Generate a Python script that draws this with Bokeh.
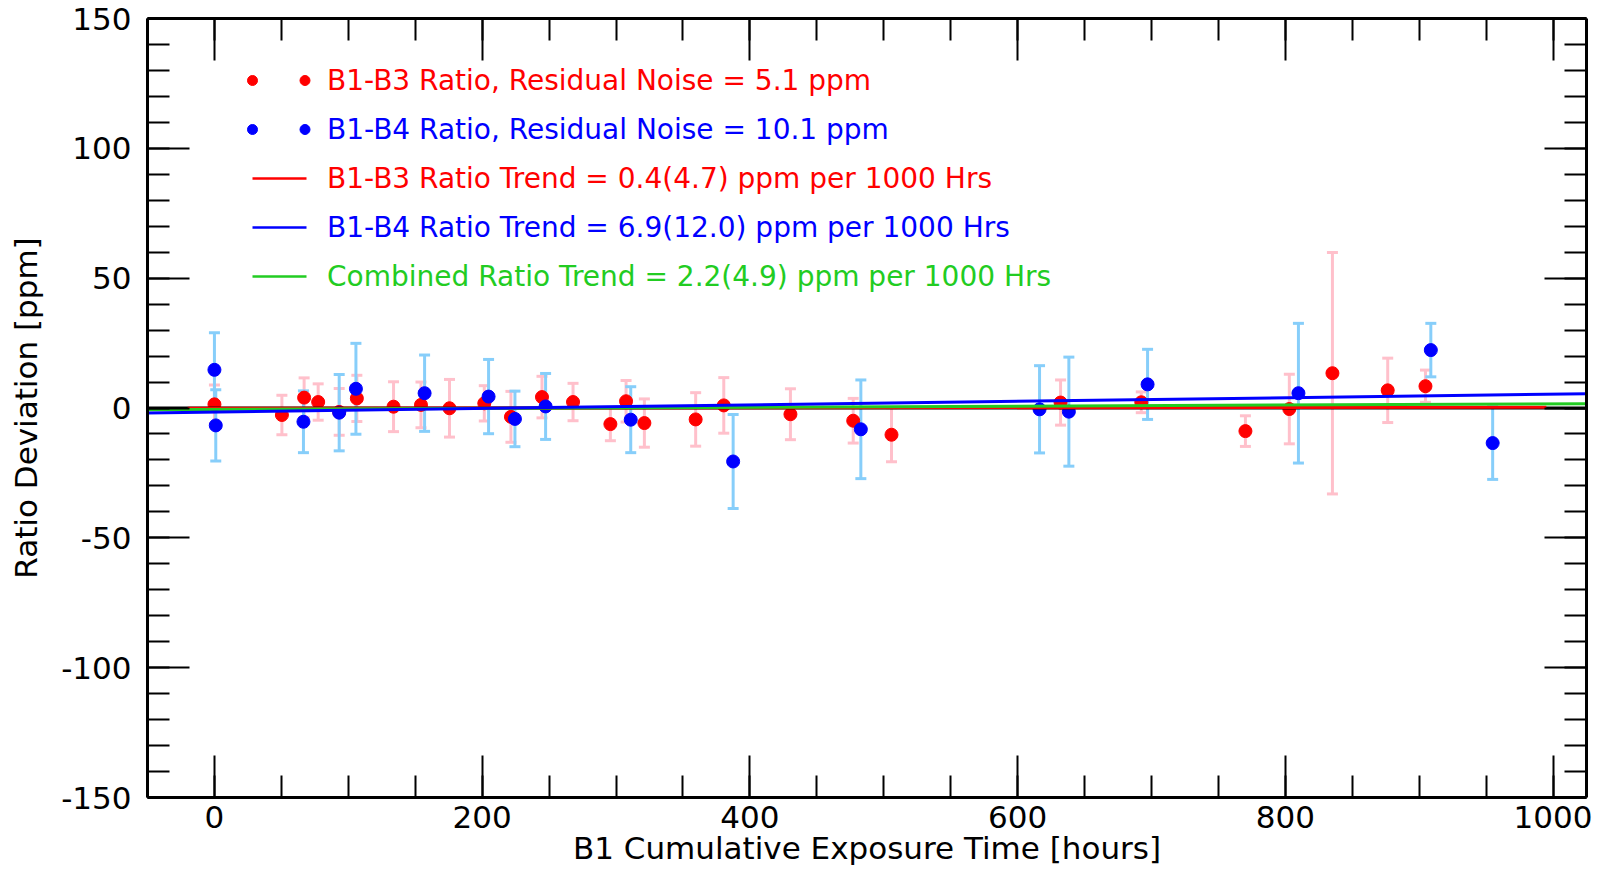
from bokeh.plotting import figure
from bokeh.models import (ColumnDataSource, Whisker, TeeHead, LinearAxis,
                          SingleIntervalTicker, Range1d, CustomJSTickFormatter)
from bokeh.core.properties import value
from bokeh.embed import file_html
from bokeh.resources import INLINE

# ---------------- data ----------------
b13_hours = [0, 50.4, 67, 77.5, 93.2, 106.4, 133.8, 154.3, 175.6, 201.6, 221.5,
             244.7, 267.9, 295.8, 307.5, 321.2, 359.5, 380.5, 430.3, 477.2,
             505.8, 632.1, 692.4, 770.2, 803, 835.2, 876.5, 904.7]
b13_dev = [1.4, -2.7, 4.0, 2.3, -1.5, 3.7, 0.5, 1.2, -0.1, 1.8, -3.4,
           4.2, 2.3, -6.2, 2.6, -5.8, -4.4, 1.0, -2.4, -4.9,
           -10.3, 2.1, 2.2, -8.9, -0.4, 13.4, 6.8, 8.4]
b13_err = [7.5, 7.6, 7.6, 7.0, 9.0, 8.9, 9.6, 8.8, 11.1, 6.8, 9.8,
           8.0, 7.2, 6.4, 8.0, 9.3, 10.3, 10.7, 9.8, 8.6,
           10.4, 8.7, 4.0, 5.9, 13.4, 46.5, 12.4, 6.2]

b14_hours = [0, 1, 66.5, 93.2, 105.7, 157, 204.8, 224.5, 247.4, 311, 387.5,
             482.9, 616.4, 638.3, 697.1, 809.8, 908.7, 954.9]
b14_dev = [14.7, -6.7, -5.3, -1.8, 7.4, 5.7, 4.4, -4.2, 0.6, -4.5, -20.6,
           -8.2, -0.5, -1.4, 9.1, 5.7, 22.3, -13.5]
b14_err = [14.3, 13.7, 11.9, 14.7, 17.5, 14.7, 14.3, 10.7, 12.7, 12.7, 18.1,
           19.0, 16.8, 21.0, 13.5, 26.9, 10.3, 14.0]

b13_trend_hours = [-20, 995]
b13_trend_dev = [-0.1, 0.3]
b14_trend_hours = [-50, 1025]
b14_trend_dev = [-1.9, 5.5]
comb_trend_hours = [-50, 1025]
comb_trend_dev = [-0.7, 1.65]

legend_labels = ["B1-B3 Ratio, Residual Noise = 5.1 ppm",
                 "B1-B4 Ratio, Residual Noise = 10.1 ppm",
                 "B1-B3 Ratio Trend = 0.4(4.7) ppm per 1000 Hrs",
                 "B1-B4 Ratio Trend = 6.9(12.0) ppm per 1000 Hrs",
                 "Combined Ratio Trend = 2.2(4.9) ppm per 1000 Hrs"]

x_title = "B1 Cumulative Exposure Time [hours]"
y_title = "Ratio Deviation [ppm]"

# ---------------- layout / style ----------------
X_RANGE = (-50, 1025)
Y_RANGE = (-150, 150)
W, H = 1600, 869
FRAME_L, FRAME_R, FRAME_T, FRAME_B = 147, 1586, 18, 797
FONT = "DejaVu Sans"

RED, BLUE, GREEN = "#FF0000", "#0000FF", "#22CC22"
PINK, LIGHTBLUE = "#FFC0CB", "#87CEFA"

p = figure(width=W, height=H,
           x_range=Range1d(*X_RANGE), y_range=Range1d(*Y_RANGE),
           output_backend="svg", toolbar_location=None,
           min_border_left=FRAME_L, min_border_right=W - FRAME_R,
           min_border_top=FRAME_T, min_border_bottom=H - FRAME_B,
           x_axis_label=x_title, y_axis_label=y_title)
p.grid.visible = False
p.outline_line_color = None
p.background_fill_color = "white"
p.border_fill_color = "white"

xticker = SingleIntervalTicker(interval=200, num_minor_ticks=4)
yticker = SingleIntervalTicker(interval=50, num_minor_ticks=5)

# plain ASCII hyphen for negative tick labels, as in the reference
ascii_fmt = CustomJSTickFormatter(code="return tick.toFixed(0);")
blank_fmt = CustomJSTickFormatter(code="return '';")


def style_axis(ax, ticker, labels=True):
    ax.ticker = ticker
    ax.axis_line_color = "black"
    ax.axis_line_width = 3
    ax.major_tick_line_color = "black"
    ax.major_tick_line_width = 2
    ax.minor_tick_line_color = "black"
    ax.minor_tick_line_width = 2
    ax.major_tick_in = 42
    ax.major_tick_out = 0
    ax.minor_tick_in = 22
    ax.minor_tick_out = 0
    ax.major_label_text_font = FONT
    ax.major_label_text_color = "black"
    ax.axis_label_text_font = FONT
    ax.axis_label_text_font_style = "normal"
    ax.axis_label_text_color = "black"
    ax.axis_label_text_font_size = "31px"
    if labels:
        ax.formatter = ascii_fmt
        ax.major_label_text_font_size = "31px"
    else:
        ax.formatter = blank_fmt
        ax.major_label_text_font_size = "0px"
        ax.major_label_standoff = 0


xax = p.xaxis[0]
yax = p.yaxis[0]
style_axis(xax, xticker)
style_axis(yax, yticker)
xax.major_label_standoff = 8
xax.axis_label_standoff = -1
yax.major_label_standoff = 16
yax.axis_label_standoff = 14

top_ax = LinearAxis()
style_axis(top_ax, xticker, labels=False)
right_ax = LinearAxis()
style_axis(right_ax, yticker, labels=False)
p.add_layout(top_ax, "above")
p.add_layout(right_ax, "right")

# ---------------- error bars ----------------
src13 = ColumnDataSource(dict(x=b13_hours, y=b13_dev,
                              lo=[v - e for v, e in zip(b13_dev, b13_err)],
                              hi=[v + e for v, e in zip(b13_dev, b13_err)]))
src14 = ColumnDataSource(dict(x=b14_hours, y=b14_dev,
                              lo=[v - e for v, e in zip(b14_dev, b14_err)],
                              hi=[v + e for v, e in zip(b14_dev, b14_err)]))

for src, col in ((src13, PINK), (src14, LIGHTBLUE)):
    w = Whisker(base="x", upper="hi", lower="lo", source=src, dimension="height",
                line_color=col, line_width=3, level="underlay",
                upper_head=TeeHead(size=11, line_color=col, line_width=3),
                lower_head=TeeHead(size=11, line_color=col, line_width=3))
    p.add_layout(w)

# ---------------- points ----------------
p.scatter("x", "y", source=src13, size=13, color=RED)
p.scatter("x", "y", source=src14, size=13, color=BLUE)

# ---------------- zero line and trends ----------------
p.line(list(X_RANGE), [0, 0], line_color="black", line_width=3)
p.line(b13_trend_hours, b13_trend_dev, line_color=RED, line_width=3)
p.line(comb_trend_hours, comb_trend_dev, line_color=GREEN, line_width=3)
p.line(b14_trend_hours, b14_trend_dev, line_color=BLUE, line_width=3)

# ---------------- legend (screen layout converted to data units) ----------------
def px_x(px):
    return X_RANGE[0] + (px - FRAME_L) / (FRAME_R - FRAME_L) * (X_RANGE[1] - X_RANGE[0])


def px_y(py):
    return Y_RANGE[1] - (py - FRAME_T) / (FRAME_B - FRAME_T) * (Y_RANGE[1] - Y_RANGE[0])


LEG_ROW0, LEG_STEP = 80, 49
LEG_DOT1, LEG_DOT2 = 252, 304.5
LEG_LINE0, LEG_LINE1 = 252, 306
LEG_TEXT = 326.5
rows = [px_y(LEG_ROW0 + i * LEG_STEP) for i in range(5)]
leg_colors = [RED, BLUE, RED, BLUE, GREEN]

for i in range(2):
    p.scatter([px_x(LEG_DOT1), px_x(LEG_DOT2)], [rows[i], rows[i]],
              size=10, color=leg_colors[i])
for i in range(2, 5):
    p.line([px_x(LEG_LINE0), px_x(LEG_LINE1)], [rows[i], rows[i]],
           line_color=leg_colors[i], line_width=2.5)

leg_src = ColumnDataSource(dict(x=[px_x(LEG_TEXT)] * 5, y=rows,
                                text=legend_labels, color=leg_colors))
p.text("x", "y", text="text", source=leg_src, text_color="color",
       text_font=value(FONT), text_font_size=value("28px"),
       text_baseline="middle", text_align="left")

open("out.html", "w").write(file_html(p, INLINE))
